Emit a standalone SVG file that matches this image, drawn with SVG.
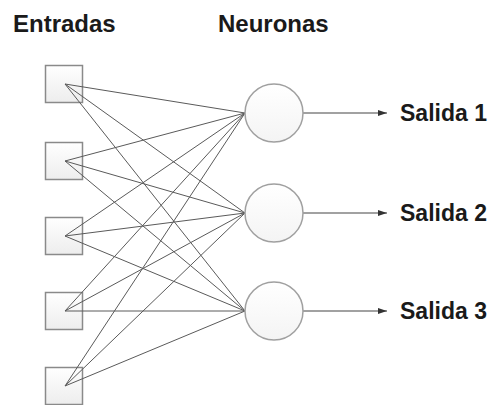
<svg xmlns="http://www.w3.org/2000/svg" width="493" height="405" viewBox="0 0 493 405">
  <defs>
    <linearGradient id="boxFill" x1="0" y1="0" x2="0" y2="1">
      <stop offset="0" stop-color="#ffffff"/>
      <stop offset="1" stop-color="#ededed"/>
    </linearGradient>
    <linearGradient id="nodeFill" x1="0" y1="0" x2="0" y2="1">
      <stop offset="0" stop-color="#ffffff"/>
      <stop offset="1" stop-color="#f4f4f4"/>
    </linearGradient>
    <marker id="arrow" markerWidth="9" markerHeight="6" refX="9" refY="3" orient="auto" markerUnits="userSpaceOnUse">
      <path d="M0,0 L9,3 L0,6 Z" fill="#333"/>
    </marker>
  </defs>
  <style>
    .title { font-family: "Liberation Sans", Arial, sans-serif; font-weight: bold; font-size: 24px; fill: #1a1a1a; }
    .out { font-family: "Liberation Sans", Arial, sans-serif; font-weight: bold; font-size: 23px; fill: #1a1a1a; }
    .input rect { fill: url(#boxFill); stroke: #8a8a8a; stroke-width: 1.5; }
    .neuron circle { fill: url(#nodeFill); stroke: #a0a0a0; stroke-width: 1.5; }
    .edge { stroke: #5a5a5a; stroke-width: 1; fill: none; }
    .outEdge { stroke: #444; stroke-width: 1.2; fill: none; }
  </style>

  <rect width="493" height="405" fill="#ffffff"/>

  <text class="title" x="13" y="32">Entradas</text>
  <text class="title" x="218" y="32">Neuronas</text>

  <!-- input boxes -->
  <g id="input1" class="input"><rect x="45.5" y="65.5" width="37" height="37"/></g>
  <g id="input2" class="input"><rect x="45.5" y="142.5" width="37" height="37"/></g>
  <g id="input3" class="input"><rect x="45.5" y="217.5" width="37" height="37"/></g>
  <g id="input4" class="input"><rect x="45.5" y="292.5" width="37" height="37"/></g>
  <g id="input5" class="input"><rect x="45.5" y="367.5" width="37" height="37"/></g>

  <!-- every input feeds every neuron -->
  <g id="connectors">
    <line class="edge" x1="65" y1="84" x2="245" y2="113"/>
    <line class="edge" x1="65" y1="84" x2="245" y2="213"/>
    <line class="edge" x1="65" y1="84" x2="245" y2="311"/>
    <line class="edge" x1="65" y1="161" x2="245" y2="113"/>
    <line class="edge" x1="65" y1="161" x2="245" y2="213"/>
    <line class="edge" x1="65" y1="161" x2="245" y2="311"/>
    <line class="edge" x1="65" y1="236" x2="245" y2="113"/>
    <line class="edge" x1="65" y1="236" x2="245" y2="213"/>
    <line class="edge" x1="65" y1="236" x2="245" y2="311"/>
    <line class="edge" x1="65" y1="311" x2="245" y2="113"/>
    <line class="edge" x1="65" y1="311" x2="245" y2="213"/>
    <line class="edge" x1="65" y1="311" x2="245" y2="311"/>
    <line class="edge" x1="65" y1="386" x2="245" y2="113"/>
    <line class="edge" x1="65" y1="386" x2="245" y2="213"/>
    <line class="edge" x1="65" y1="386" x2="245" y2="311"/>

    <line class="outEdge" x1="303" y1="113" x2="387" y2="113" marker-end="url(#arrow)"/>
    <line class="outEdge" x1="303" y1="213" x2="387" y2="213" marker-end="url(#arrow)"/>
    <line class="outEdge" x1="303" y1="311" x2="387" y2="311" marker-end="url(#arrow)"/>
  </g>

  <!-- neurons -->
  <g id="neuron1" class="neuron"><circle cx="274" cy="113" r="29"/></g>
  <g id="neuron2" class="neuron"><circle cx="274" cy="213" r="29"/></g>
  <g id="neuron3" class="neuron"><circle cx="274" cy="311" r="29"/></g>

  <!-- outputs -->
  <g id="out1"><text class="out" x="400" y="121">Salida 1</text></g>
  <g id="out2"><text class="out" x="400" y="221">Salida 2</text></g>
  <g id="out3"><text class="out" x="400" y="319">Salida 3</text></g>
</svg>
